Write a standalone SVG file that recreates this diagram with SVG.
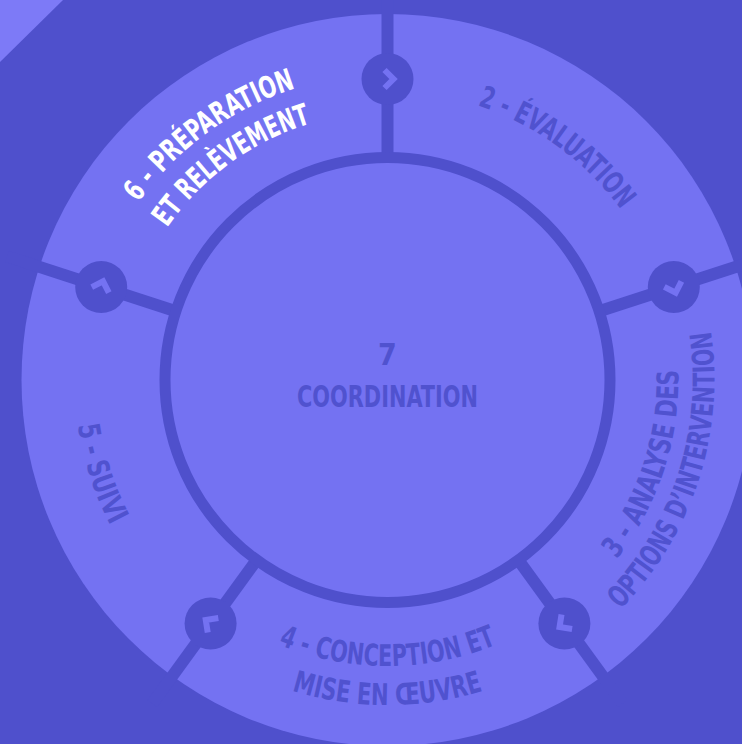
<svg xmlns="http://www.w3.org/2000/svg" xmlns:xlink="http://www.w3.org/1999/xlink" width="742" height="744" viewBox="0 0 742 744">
<style>
.lbl{font-family:"DejaVu Sans Condensed","Liberation Sans",sans-serif;font-weight:700;font-size:30px;fill:#5052cf}
.hi{fill:#ffffff}
.div{stroke:#4f50cc;stroke-width:12;fill:none}
.node{fill:#4f50cc}
.chev{fill:none;stroke:#7472f2;stroke-width:6;stroke-linejoin:miter}
</style>
<defs>
<path id="p2" d="M270.0,116.0 A289,289 0 0 1 674.9,410.2"/>
<path id="p6a" d="M83.2,412.0 A306,306 0 0 1 512.0,100.5"/>
<path id="p6b" d="M121.0,408.0 A268,268 0 0 1 496.5,135.2"/>
<path id="p3a" d="M448.0,664.6 A291,291 0 0 0 603.7,185.3"/>
<path id="p3b" d="M455.5,699.8 A327,327 0 0 0 630.5,161.2"/>
<path id="p4a" d="M139.8,523 A286,286 0 0 0 635.2,523"/>
<path id="p4b" d="M106.0,542.5 A325,325 0 0 0 669.0,542.5"/>
<path id="p5" d="M154.9,170.6 A313,313 0 0 0 322.4,686.1"/>
<path id="chv" d="M-3,-9 L6,0 L-3,9"/>
</defs>
<rect width="742" height="744" fill="#4f50cc"/>
<polygon points="0,0 63,0 0,62" fill="#7d7af7"/>
<g id="ring">
<circle cx="387.5" cy="380" r="366" fill="#7472f2"/>
</g>
<g id="connectors">
<line class="div" x1="387.5" y1="155" x2="387.5" y2="-20"/>
<line class="div" x1="601.5" y1="310.5" x2="768" y2="256.4"/>
<line class="div" x1="519.8" y1="562.0" x2="622.6" y2="703.6"/>
<line class="div" x1="255.2" y1="562.0" x2="152.4" y2="703.6"/>
<line class="div" x1="173.5" y1="310.5" x2="7" y2="256.4"/>
</g>
<g id="center">
<circle cx="387.5" cy="380" r="222.5" fill="#7472f2" stroke="#4f50cc" stroke-width="11"/>
<text class="lbl" x="387.5" y="365" text-anchor="middle">7</text>
<text class="lbl" x="387.5" y="407" text-anchor="middle" textLength="181" lengthAdjust="spacingAndGlyphs">COORDINATION</text>
</g>
<g id="n1"><circle class="node" cx="387.5" cy="79" r="26"/><use href="#chv" class="chev" transform="translate(387.5,79)"/></g>
<g id="n2"><circle class="node" cx="673.8" cy="287" r="26"/><use href="#chv" class="chev" transform="translate(673.8,287) rotate(72)"/></g>
<g id="n3"><circle class="node" cx="564.4" cy="623.5" r="26"/><use href="#chv" class="chev" transform="translate(564.4,623.5) rotate(144)"/></g>
<g id="n4"><circle class="node" cx="210.6" cy="623.5" r="26"/><use href="#chv" class="chev" transform="translate(210.6,623.5) rotate(216)"/></g>
<g id="n5"><circle class="node" cx="101.2" cy="287" r="26"/><use href="#chv" class="chev" transform="translate(101.2,287) rotate(288)"/></g>
<g id="s2"><text class="lbl"><textPath href="#p2" startOffset="50%" text-anchor="middle" textLength="180" lengthAdjust="spacingAndGlyphs">2 - ÉVALUATION</textPath></text></g>
<g id="s3">
<text class="lbl"><textPath href="#p3a" startOffset="50%" text-anchor="middle" textLength="203" lengthAdjust="spacingAndGlyphs">3 - ANALYSE DES</textPath></text>
<text class="lbl"><textPath href="#p3b" startOffset="50%" text-anchor="middle" textLength="303" lengthAdjust="spacingAndGlyphs">OPTIONS D’INTERVENTION</textPath></text>
</g>
<g id="s4">
<text class="lbl"><textPath href="#p4a" startOffset="50%" text-anchor="middle" textLength="224" lengthAdjust="spacingAndGlyphs">4 - CONCEPTION ET</textPath></text>
<text class="lbl"><textPath href="#p4b" startOffset="50%" text-anchor="middle" textLength="194" lengthAdjust="spacingAndGlyphs">MISE EN ŒUVRE</textPath></text>
</g>
<g id="s5"><text class="lbl"><textPath href="#p5" startOffset="50%" text-anchor="middle" textLength="106" lengthAdjust="spacingAndGlyphs">5 - SUIVI</textPath></text></g>
<g id="s6">
<text class="lbl hi"><textPath href="#p6a" startOffset="50%" text-anchor="middle" textLength="198" lengthAdjust="spacingAndGlyphs">6 - PRÉPARATION</textPath></text>
<text class="lbl hi"><textPath href="#p6b" startOffset="50%" text-anchor="middle" textLength="181" lengthAdjust="spacingAndGlyphs">ET RELÈVEMENT</textPath></text>
</g>
</svg>
